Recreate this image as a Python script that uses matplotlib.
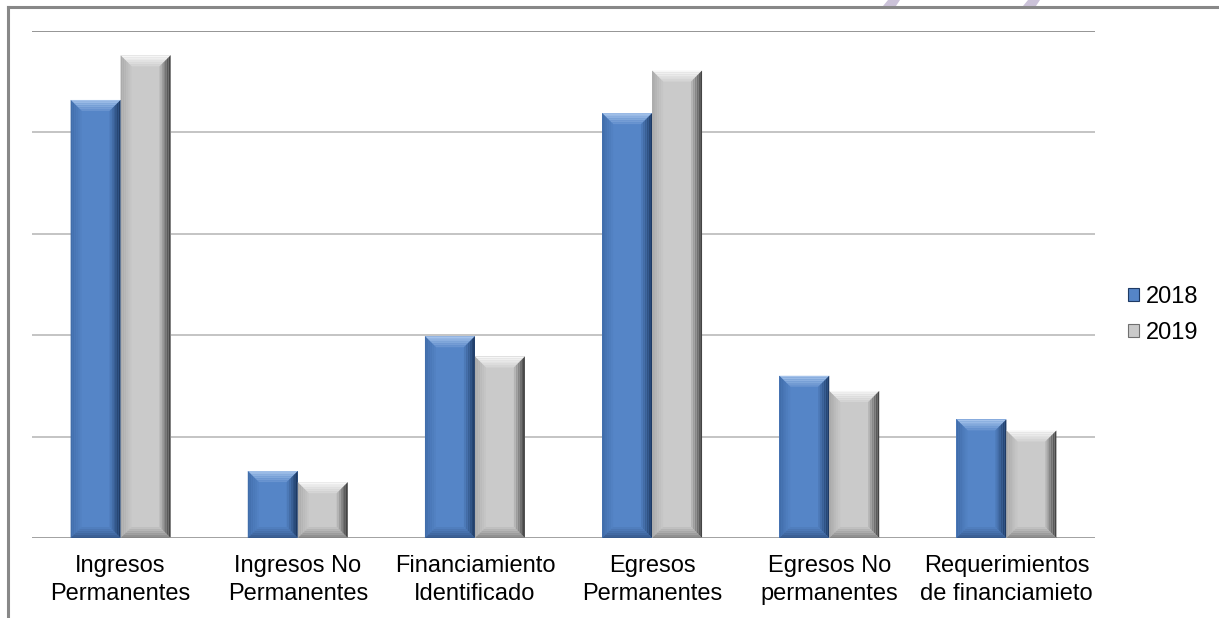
import numpy as np
import matplotlib.pyplot as plt
from matplotlib.patches import Polygon, Patch
from matplotlib.lines import Line2D

plt.rcParams['font.family'] = ['Liberation Sans', 'DejaVu Sans']

categorias = ['Ingresos\nPermanentes', 'Ingresos No\nPermanentes', 'Financiamiento\nIdentificado',
              'Egresos\nPermanentes', 'Egresos No\npermanentes', 'Requerimientos\nde financiamieto']
v2018 = [4.32, 0.66, 1.99, 4.19, 1.60, 1.17]
v2019 = [4.76, 0.55, 1.79, 4.61, 1.45, 1.06]
anios = ['2018', '2019']

# colores: cara, arriba, izquierda, derecha, abajo
col_azul = ['#5585C7', '#A4C2EA', '#416DAA', '#1E3A64', '#36598C']
col_gris = ['#CACACA', '#F6F6F6', '#ABABAB', '#444444', '#858585']

W, H = 1219, 618
fig = plt.figure(figsize=(W / 100, H / 100), dpi=100)
ax_l, ax_r, ax_t, ax_b = 32, 1095, 31, 538
ax = fig.add_axes([ax_l / W, 1 - ax_b / H, (ax_r - ax_l) / W, (ax_b - ax_t) / H])
ax.set_xlim(-0.5, 5.5)
ax.set_ylim(0, 5)
sx = (ax_r - ax_l) / 6.0   # px por unidad x
sy = (ax_b - ax_t) / 5.0   # px por unidad y

for g in [1, 2, 3, 4]:
    ax.axhline(g, color='#B4B4B4', lw=1.1, zorder=0)
ax.axhline(5, color='#8C8C8C', lw=1.3, zorder=0)
ax.axhline(0, color='#9A9A9A', lw=1.3, zorder=0)


def mezcla(c1, c2, t):
    a = np.array(plt.matplotlib.colors.to_rgb(c1))
    b = np.array(plt.matplotlib.colors.to_rgb(c2))
    return tuple(a * (1 - t) + b * t)


def barra_bisel(x0, ancho, alto, cols, bpx=11):
    bx = bpx / sx
    by = bpx / sy
    x1 = x0 + ancho
    ax.add_patch(Polygon([(x0, 0), (x1, 0), (x1, alto), (x0, alto)], closed=True,
                         fc=cols[0], ec='none', zorder=2))
    n = 6
    for k in range(n):
        t0, t1 = k / n, (k + 1) / n
        # arriba
        ax.add_patch(Polygon([(x0 + bx * t0, alto - by * t0), (x1 - bx * t0, alto - by * t0),
                              (x1 - bx * t1, alto - by * t1), (x0 + bx * t1, alto - by * t1)],
                             closed=True, fc=mezcla(cols[1], cols[0], t0 * 0.9), ec='none', zorder=3))
        # izquierda
        ax.add_patch(Polygon([(x0 + bx * t0, by * t0), (x0 + bx * t0, alto - by * t0),
                              (x0 + bx * t1, alto - by * t1), (x0 + bx * t1, by * t1)],
                             closed=True, fc=mezcla(cols[2], cols[0], t0), ec='none', zorder=3))
        # derecha
        ax.add_patch(Polygon([(x1 - bx * t0, by * t0), (x1 - bx * t0, alto - by * t0),
                              (x1 - bx * t1, alto - by * t1), (x1 - bx * t1, by * t1)],
                             closed=True, fc=mezcla(cols[3], cols[0], t0), ec='none', zorder=3))
        # abajo
        ax.add_patch(Polygon([(x0 + bx * t0, by * t0), (x1 - bx * t0, by * t0),
                              (x1 - bx * t1, by * t1), (x0 + bx * t1, by * t1)],
                             closed=True, fc=mezcla(cols[4], cols[0], t0), ec='none', zorder=3))


ancho = 0.282
x = np.arange(len(categorias))
for i in range(len(categorias)):
    barra_bisel(x[i] - ancho, ancho, v2018[i], col_azul)
    barra_bisel(x[i], ancho, v2019[i], col_gris)

ax.set_xticks(x)
ax.set_xticklabels(categorias, fontsize=17, color='#000000', linespacing=1.38)
ax.tick_params(axis='x', length=0, pad=12)
ax.set_yticks([])
for s in ax.spines.values():
    s.set_visible(False)

handles = [Patch(fc=col_azul[0], ec=col_azul[3], lw=0.8), Patch(fc=col_gris[0], ec='#707070', lw=0.8)]
fig.legend(handles, anios, loc='center left', bbox_to_anchor=(1107 / W, 1 - 315 / H),
           frameon=False, fontsize=17, handlelength=0.45, handleheight=0.45,
           handletextpad=0.3, labelspacing=0.6)

# marco del grafico
fig.add_artist(Line2D([8 / W, 1], [1 - 7 / H, 1 - 7 / H], color='#888888', lw=2.2))
fig.add_artist(Line2D([8 / W, 8 / W], [0, 1 - 7 / H], color='#888888', lw=2.2))

# restos de marca de agua arriba
for xa in [882, 1022]:
    fig.add_artist(Polygon([((xa + 6) / W, 1), ((xa + 18) / W, 1), ((xa + 14) / W, 1 - 6 / H),
                            ((xa + 1) / W, 1 - 6 / H)], closed=True, fc='#CBC2D8', ec='none',
                           transform=fig.transFigure))

fig.savefig('out.png', dpi=100)
